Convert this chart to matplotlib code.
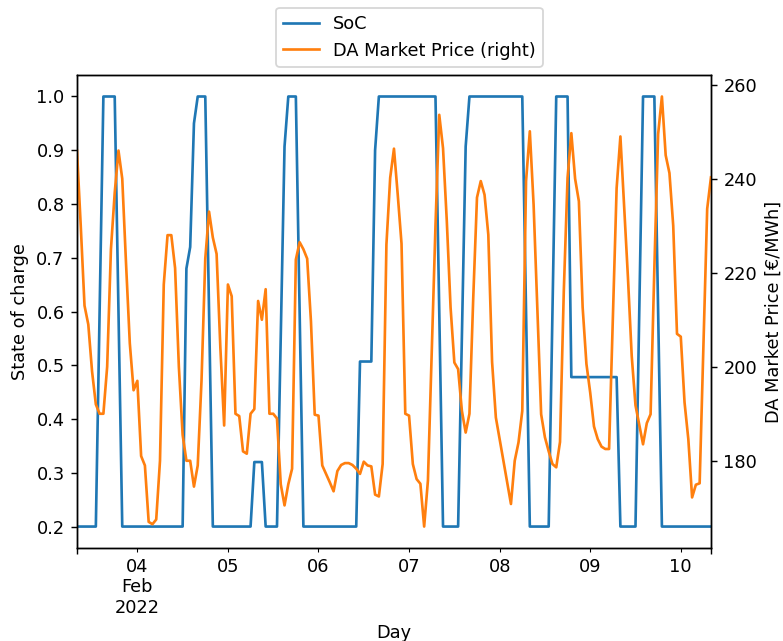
import numpy as np
import pandas as pd
import matplotlib
matplotlib.use("Agg")
import matplotlib.pyplot as plt

# hourly values, Feb 3 2022 08:00 -> Feb 10 2022 08:00
start = "2022-02-03 08:00"

soc = ([0.2] * 6 + [0.6] + [1.0] * 4 + [0.6] + [0.2] * 17
       + [0.68, 0.72, 0.95] + [1.0] * 3 + [0.6] + [0.2] * 11
       + [0.32] * 3 + [0.2] * 4 + [0.55, 0.907] + [1.0] * 3 + [0.6]
       + [0.2] * 15 + [0.507] * 4 + [0.90] + [1.0] * 16 + [0.6]
       + [0.2] * 5 + [0.55, 0.907] + [1.0] * 15 + [0.6] + [0.2] * 6
       + [0.6] + [1.0] * 4 + [0.478] * 13 + [0.2] * 5 + [0.6]
       + [1.0] * 4 + [0.6] + [0.2] * 14)

price = [246, 230, 213, 209, 199, 192, 190, 190, 200, 225,
         237, 246, 240, 222, 205, 195, 197, 181, 179, 167,
         166.5, 167.5, 180, 217.5, 228, 228, 221, 200, 185.5, 180,
         180, 174.5, 179, 197, 223, 233, 227.5, 224, 204, 187.5,
         217.5, 215, 190, 189.5, 182, 181.5, 190, 191, 214, 210,
         216.5, 190, 190, 189, 175, 170.5, 175, 178.3, 222.8, 226.5,
         225, 223, 209.7, 189.8, 189.6, 179, 177.2, 175.4, 173.5, 177.8,
         179.1, 179.5, 179.5, 179.1, 178.3, 177.2, 179.8, 179, 178.8, 172.8,
         172.4, 179.3, 226, 240.2, 246.4, 236.6, 226.2, 190, 189.6, 179.3,
         176.1, 175.1, 166, 175.8, 203, 230, 253.6, 246.5, 231, 212.6,
         200.9, 199.5, 190.6, 186, 190, 214.5, 236, 239.5, 236.6, 228.1,
         201, 189.2, 184.6, 180, 175.4, 170.8, 180, 183.9, 190.6, 239.5,
         250.1, 234.5, 211.9, 189.9, 185, 182, 179.3, 178.6, 184, 216,
         240.2, 249.7, 240, 235.2, 212.6, 200.6, 194.5, 187.3, 184.6, 183,
         182.5, 182.5, 210, 238, 249, 234, 219, 202.3, 191.8, 187.6,
         183.5, 188, 189.9, 221, 249.5, 257.5, 245, 241.2, 230, 207,
         206.4, 192.4, 184.6, 172.2, 174.9, 175.2, 204, 233.6, 240.3]

idx = pd.date_range(start, periods=len(price), freq="h")
df = pd.DataFrame({"SoC": soc, "DA Market Price": price}, index=idx)

DPI = 128
fig, ax = plt.subplots(figsize=(783 / DPI, 641 / DPI), dpi=DPI)
df["SoC"].plot(ax=ax, color="C0")
df["DA Market Price"].plot(ax=ax, secondary_y=True, color="C1")

ax.set_ylabel("State of charge")
ax.right_ax.set_ylabel("DA Market Price [€/MWh]")
ax.set_xlabel("Day")

handles = ax.get_lines() + ax.right_ax.get_lines()
fig.legend(handles, ["SoC", "DA Market Price (right)"],
           loc="upper center", bbox_to_anchor=(0.523, 0.988), borderaxespad=0)

fig.subplots_adjust(left=0.0983, right=0.908, bottom=0.145, top=0.883)
fig.savefig("out.png", dpi=DPI)
